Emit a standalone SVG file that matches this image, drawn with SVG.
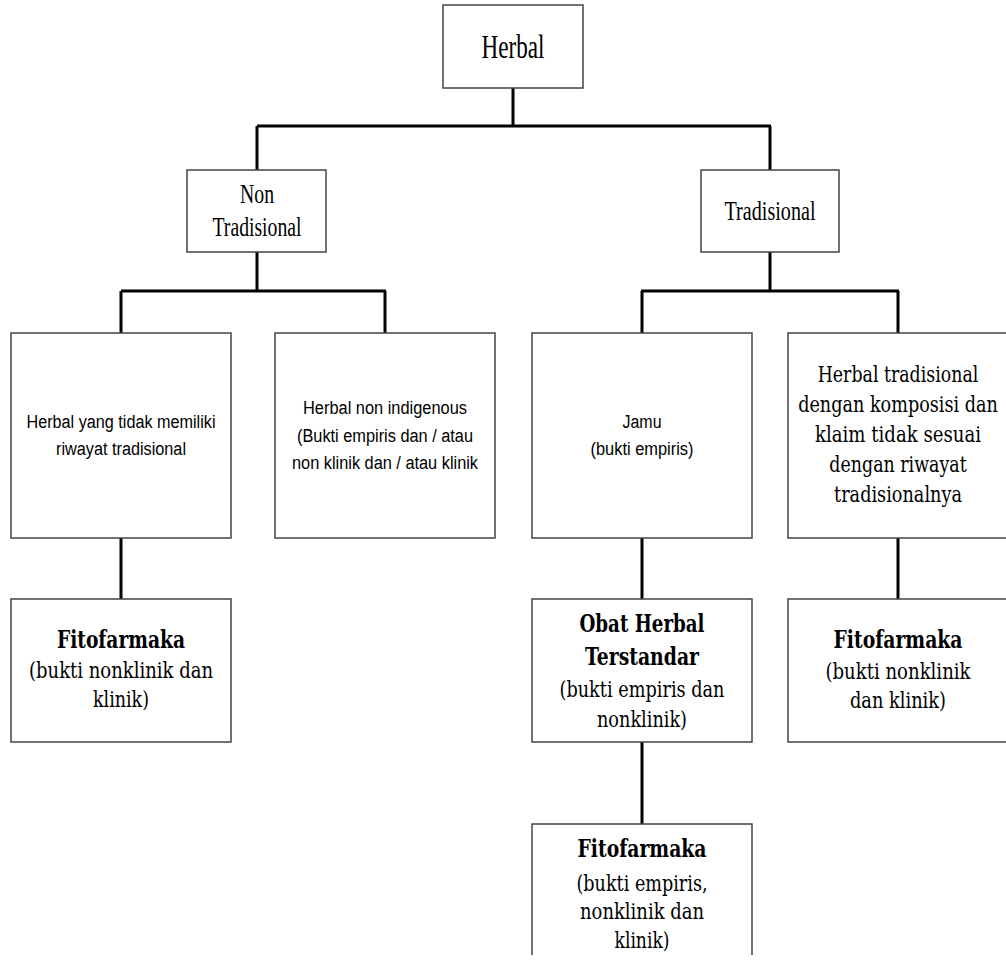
<svg xmlns="http://www.w3.org/2000/svg" width="1006" height="964" viewBox="0 0 1006 964">
<style>
.box{fill:#fff;stroke:#444;stroke-width:1.5}
.conn{fill:none;stroke:#000;stroke-width:3}
.t1{font-family:"Liberation Serif",serif;fill:#000;text-anchor:middle}
.sans{font-family:"Liberation Sans",Arial,sans-serif;font-size:18px;fill:#000;text-anchor:middle}
.slab{font-family:"DejaVu Serif","Liberation Serif",serif;font-size:22px;fill:#000;text-anchor:middle}
.slabb{font-family:"DejaVu Serif","Liberation Serif",serif;font-size:24px;font-weight:bold;fill:#000;text-anchor:middle}
</style>
<rect width="1006" height="964" fill="#fff"/>
<g id="connectors">
<path class="conn" d="M513 88V126M257 126H771M257 126V170M770 126V170"/>
<path class="conn" d="M257 252V291M121 291H386M121 291V333M385 291V333"/>
<path class="conn" d="M770 252V291M641 291H899M642 291V333M898 291V333"/>
<path class="conn" d="M121 538V599M642 538V599M898 538V599M642 742V824"/>
</g>
<g id="herbal">
<rect class="box" x="443" y="5" width="140" height="83"/>
<text class="t1" x="513" y="58" font-size="34" textLength="63" lengthAdjust="spacingAndGlyphs">Herbal</text>
</g>
<g id="non-tradisional">
<rect class="box" x="187" y="170" width="139" height="82"/>
<text class="t1" x="257" y="203" font-size="27" textLength="34" lengthAdjust="spacingAndGlyphs">Non</text>
<text class="t1" x="257" y="236" font-size="27" textLength="89" lengthAdjust="spacingAndGlyphs">Tradisional</text>
</g>
<g id="tradisional">
<rect class="box" x="701" y="170" width="138" height="82"/>
<text class="t1" x="770" y="220" font-size="27" textLength="91" lengthAdjust="spacingAndGlyphs">Tradisional</text>
</g>
<g id="tanpa-riwayat">
<rect class="box" x="11" y="333" width="220" height="205"/>
<text class="sans" x="121" y="428" textLength="189" lengthAdjust="spacingAndGlyphs">Herbal yang tidak memiliki</text>
<text class="sans" x="121" y="455" textLength="130" lengthAdjust="spacingAndGlyphs">riwayat tradisional</text>
</g>
<g id="non-indigenous">
<rect class="box" x="275" y="333" width="220" height="205"/>
<text class="sans" x="385" y="414" textLength="164" lengthAdjust="spacingAndGlyphs">Herbal non indigenous</text>
<text class="sans" x="385" y="442" textLength="176" lengthAdjust="spacingAndGlyphs">(Bukti empiris dan / atau</text>
<text class="sans" x="385" y="469" textLength="186" lengthAdjust="spacingAndGlyphs">non klinik dan / atau klinik</text>
</g>
<g id="jamu">
<rect class="box" x="532" y="333" width="220" height="205"/>
<text class="sans" x="642" y="428" textLength="39" lengthAdjust="spacingAndGlyphs">Jamu</text>
<text class="sans" x="642" y="455" textLength="103" lengthAdjust="spacingAndGlyphs">(bukti empiris)</text>
</g>
<g id="tradisional-tidak-sesuai">
<path class="box" d="M1006 333H788V538H1006"/>
<g transform="translate(898 0) scale(0.78 1)">
<text class="slab" x="0" y="382" textLength="206" lengthAdjust="spacingAndGlyphs">Herbal tradisional</text>
<text class="slab" x="0" y="412" textLength="256" lengthAdjust="spacingAndGlyphs">dengan komposisi dan</text>
<text class="slab" x="0" y="442" textLength="213" lengthAdjust="spacingAndGlyphs">klaim tidak sesuai</text>
<text class="slab" x="0" y="472" textLength="176" lengthAdjust="spacingAndGlyphs">dengan riwayat</text>
<text class="slab" x="0" y="502" textLength="164" lengthAdjust="spacingAndGlyphs">tradisionalnya</text>
</g>
</g>
<g id="fitofarmaka-1">
<rect class="box" x="11" y="599" width="220" height="143"/>
<text class="slabb" x="121" y="648" textLength="128" lengthAdjust="spacingAndGlyphs">Fitofarmaka</text>
<text class="slab" x="121" y="678" textLength="184" lengthAdjust="spacingAndGlyphs">(bukti nonklinik dan</text>
<text class="slab" x="121" y="707" textLength="56" lengthAdjust="spacingAndGlyphs">klinik)</text>
</g>
<g id="obat-herbal-terstandar">
<rect class="box" x="532" y="599" width="220" height="143"/>
<text class="slabb" x="642" y="632" textLength="125" lengthAdjust="spacingAndGlyphs">Obat Herbal</text>
<text class="slabb" x="642" y="665" textLength="114" lengthAdjust="spacingAndGlyphs">Terstandar</text>
<text class="slab" x="642" y="697" textLength="165" lengthAdjust="spacingAndGlyphs">(bukti empiris dan</text>
<text class="slab" x="642" y="727" textLength="90" lengthAdjust="spacingAndGlyphs">nonklinik)</text>
</g>
<g id="fitofarmaka-2">
<path class="box" d="M1006 599H788V742H1006"/>
<text class="slabb" x="898" y="648" textLength="129" lengthAdjust="spacingAndGlyphs">Fitofarmaka</text>
<text class="slab" x="898" y="679" textLength="145" lengthAdjust="spacingAndGlyphs">(bukti nonklinik</text>
<text class="slab" x="898" y="708" textLength="96" lengthAdjust="spacingAndGlyphs">dan klinik)</text>
</g>
<g id="fitofarmaka-3">
<path class="box" d="M532 955V824H752V955"/>
<text class="slabb" x="642" y="857" textLength="129" lengthAdjust="spacingAndGlyphs">Fitofarmaka</text>
<text class="slab" x="642" y="891" textLength="131" lengthAdjust="spacingAndGlyphs">(bukti empiris,</text>
<text class="slab" x="642" y="919" textLength="124" lengthAdjust="spacingAndGlyphs">nonklinik dan</text>
<text class="slab" x="642" y="948" textLength="55" lengthAdjust="spacingAndGlyphs">klinik)</text>
</g>
</svg>
